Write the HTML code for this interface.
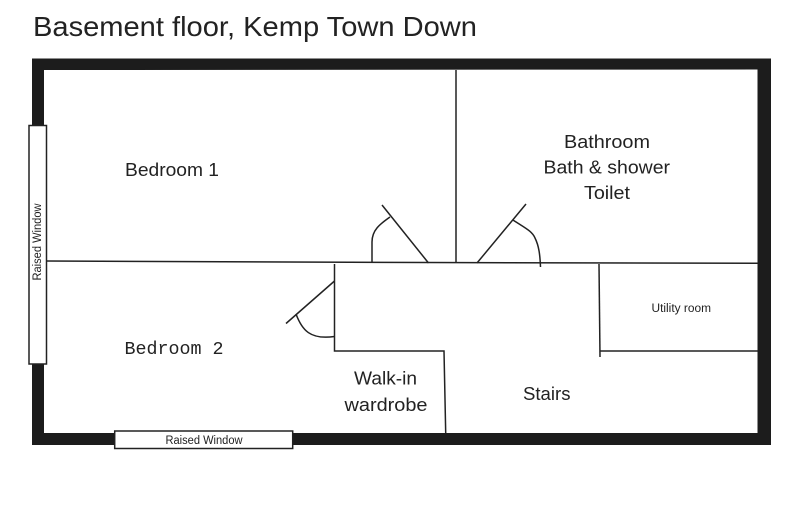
<!DOCTYPE html>
<html>
<head>
<meta charset="utf-8">
<style>
html,body{margin:0;padding:0;background:#fff;}
svg{display:block;}
text{font-family:"Liberation Sans",sans-serif;fill:#222;}
</style>
</head>
<body>
<svg width="800" height="509" viewBox="0 0 800 509" xmlns="http://www.w3.org/2000/svg">
<rect width="800" height="509" fill="#fff"/>
<text x="33" y="36" font-size="27.5" textLength="444" lengthAdjust="spacingAndGlyphs">Basement floor, Kemp Town Down</text>
<path fill="#1c1c1c" fill-rule="evenodd" d="M32 58.5H771V445H32ZM44 70V433H757.5V69.5Z"/>
<g fill="none" stroke="#222" stroke-width="1.5">
<path d="M456 70V263"/>
<path d="M46 261L428 262.5L758 263.3"/>
<path d="M334.5 264V351H444L445.7 433"/>
<path d="M599 264L600 357"/>
<path d="M600 351H758"/>
<path d="M382 205L428.5 263"/>
<path d="M390 217C380 224 372 230 372 242V262"/>
<path d="M526 204L477 263"/>
<path d="M513 220C525 228 532 231 535 238C539 246 540 255 540.5 267"/>
<path d="M334.5 281L286 323.5"/>
<path d="M296 314C302 330 310 340 334.5 336.5"/>
</g>
<rect x="29" y="125.5" width="17.5" height="238.5" fill="#fff" stroke="#222" stroke-width="1.5"/>
<rect x="114.7" y="431" width="178" height="17.5" fill="#fff" stroke="#222" stroke-width="1.5"/>
<text x="125" y="176" font-size="18.5" textLength="94" lengthAdjust="spacingAndGlyphs">Bedroom 1</text>
<text x="564" y="148" font-size="18.5" textLength="86" lengthAdjust="spacingAndGlyphs">Bathroom</text>
<text x="543.5" y="173.5" font-size="18.5" textLength="126.5" lengthAdjust="spacingAndGlyphs">Bath &amp; shower</text>
<text x="584" y="199" font-size="18.5" textLength="46" lengthAdjust="spacingAndGlyphs">Toilet</text>
<text x="124.5" y="354" font-size="18.3" style="font-family:'Liberation Mono',monospace" textLength="99" lengthAdjust="spacingAndGlyphs">Bedroom 2</text>
<text x="354" y="384.5" font-size="18.5" textLength="63" lengthAdjust="spacingAndGlyphs">Walk-in</text>
<text x="344.5" y="411" font-size="18.5" textLength="83" lengthAdjust="spacingAndGlyphs">wardrobe</text>
<text x="523" y="400" font-size="18.5" textLength="47.5" lengthAdjust="spacingAndGlyphs">Stairs</text>
<text x="651.5" y="312" font-size="11.5" textLength="59.5" lengthAdjust="spacingAndGlyphs">Utility room</text>
<text x="165.5" y="444" font-size="11.5" textLength="77" lengthAdjust="spacingAndGlyphs">Raised Window</text>
<text transform="translate(41 280.5) rotate(-90)" x="0" y="0" font-size="11.5" textLength="77" lengthAdjust="spacingAndGlyphs">Raised Window</text>
</svg>
</body>
</html>
